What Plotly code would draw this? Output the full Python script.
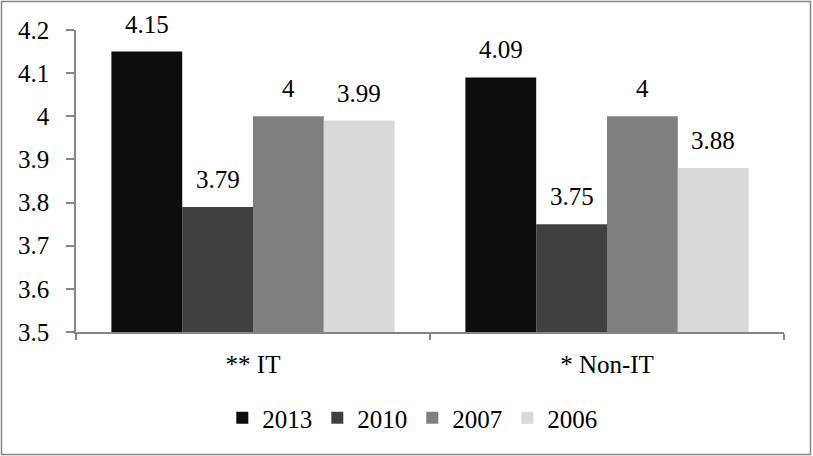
import plotly.graph_objects as go

categories = ["** IT", "* Non-IT"]
years = ["2013", "2010", "2007", "2006"]
values = {
    "2013": [4.15, 4.09],
    "2010": [3.79, 3.75],
    "2007": [4.00, 4.00],
    "2006": [3.99, 3.88],
}
colors = {"2013": "#0d0d0d", "2010": "#404040", "2007": "#7f7f7f", "2006": "#d9d9d9"}
y_ticks = [3.5, 3.6, 3.7, 3.8, 3.9, 4.0, 4.1, 4.2]
y_labels = ["3.5", "3.6", "3.7", "3.8", "3.9", "4", "4.1", "4.2"]

W, H = 813, 456
L, R, T, B = 76, 29, 30, 124
FONT = "Liberation Serif"
BARGAP = 0.2

pw, ph = W - L - R, H - T - B
bar_px = pw / len(categories) * (1 - BARGAP) / len(years)

fig = go.Figure()
for i, yr in enumerate(years):
    fig.add_trace(go.Bar(
        name=yr, x=categories, y=[v - 3.5 for v in values[yr]], base=3.5,
        marker=dict(color=colors[yr], line=dict(width=0)),
        cliponaxis=False,
    ))
    for c, v in zip(categories, values[yr]):
        fig.add_annotation(x=c, y=v, text=f"{v:g}", showarrow=False,
                           xanchor="center", yanchor="bottom",
                           xshift=(i - (len(years) - 1) / 2) * bar_px, yshift=12,
                           font=dict(size=25, color="#000000", family=FONT))

fig.add_shape(type="rect", xref="paper", yref="paper",
              x0=(1.5 - L) / pw, x1=(W - 2.5 - L) / pw,
              y0=-(H - 1.5 - T - ph) / ph, y1=(T - 1.5) / ph + 1,
              line=dict(color="#868686", width=1.5), fillcolor="rgba(0,0,0,0)", layer="below")

fig.update_layout(
    width=W, height=H,
    margin=dict(l=L, r=R, t=T, b=B),
    paper_bgcolor="white", plot_bgcolor="white",
    barmode="group", bargap=BARGAP, bargroupgap=0,
    font=dict(family=FONT, size=25, color="#000000"),
    showlegend=True,
    legend=dict(orientation="h", x=0.475, xanchor="center", y=-0.285, yanchor="middle",
                font=dict(size=25, family=FONT), itemwidth=30, traceorder="normal"),
    xaxis=dict(showline=True, linecolor="#868686", linewidth=1.5, ticks="outside",
               tickson="boundaries", ticklen=6, tickcolor="#868686", tickwidth=1.5,
               showgrid=False, ticklabelstandoff=9, tickfont=dict(size=25, family=FONT)),
    yaxis=dict(range=[3.5, 4.2], tickvals=y_ticks, ticktext=y_labels, showline=True,
               linecolor="#868686", linewidth=1.5, ticks="outside", ticklen=8,
               tickcolor="#868686", tickwidth=1.5, showgrid=False, zeroline=False,
               ticklabelstandoff=12, tickfont=dict(size=25, family=FONT)),
)

fig.write_html("out.html")
